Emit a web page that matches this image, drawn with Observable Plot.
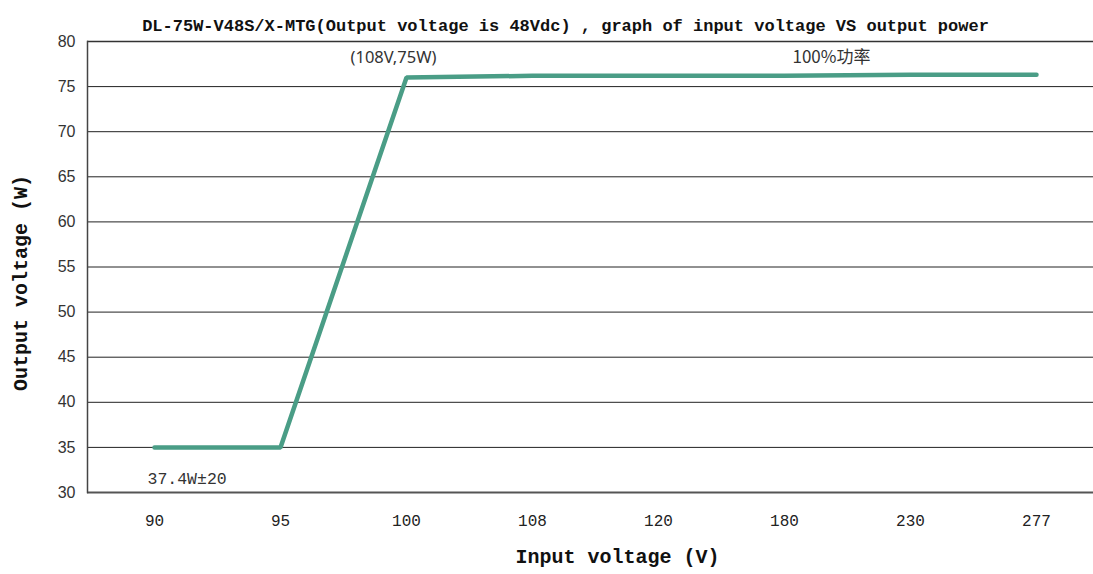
<!DOCTYPE html>
<html>
<head>
<meta charset="utf-8">
<script src="https://cdn.jsdelivr.net/npm/d3@7"></script>
<script src="https://cdn.jsdelivr.net/npm/@observablehq/plot@0.6"></script>
<style>
  html, body { margin: 0; padding: 0; background: #fff; }
</style>
</head>
<body>
<div id="chart"></div>
<script>
const categories = ["90", "95", "100", "108", "120", "180", "230", "277"];
const power = [35, 35, 76.0, 76.2, 76.2, 76.2, 76.3, 76.3];
const yTicks = [30, 35, 40, 45, 50, 55, 60, 65, 70, 75, 80];
const titleText = "DL-75W-V48S/X-MTG(Output voltage is 48Vdc) , graph of input voltage VS output power";
const xLabel = "Input voltage (V)";
const yLabel = "Output voltage (W)";
const annotations = [
  {x: "100", y: 78.2, text: "(108V,75W)", dx: -13, font: "Noto Sans, Liberation Sans, sans-serif", anchor: "middle", size: 16.5},
  {x: "180", y: 78.2, text: "100%功率", dx: 8, font: "Noto Sans CJK SC, Noto Sans, sans-serif", anchor: "start", size: 17},
  {x: "90", y: 31.5, text: "37.4W±20", dx: -7, font: "Liberation Mono, monospace", anchor: "start", size: 16.5}
];

const data = categories.map((c, i) => ({x: c, y: power[i]}));
const mono = "Liberation Mono, DejaVu Sans Mono, monospace";

const chart = Plot.plot({
  width: 1093,
  height: 574,
  marginTop: 41,
  marginBottom: 82,
  marginLeft: 87,
  marginRight: 0,
  style: {background: "#fff"},
  x: {type: "point", domain: categories, range: [152, 1037], padding: 0},
  y: {domain: [30, 80], ticks: yTicks},
  marks: [
    Plot.ruleY(yTicks.filter(d => d !== 30 && d !== 80), {y: d => d, stroke: "#222", strokeWidth: 1}),
    Plot.ruleY([80], {stroke: "#333", strokeWidth: 1.6}),
    Plot.ruleY([30], {stroke: "#555", strokeWidth: 2.2}),
    Plot.frame({anchor: "left", stroke: "#444", strokeWidth: 1.5}),
    Plot.axisX({tickSize: 0, tickPadding: 22, fontSize: 16, fontFamily: mono, fill: "#222", label: null}),
    Plot.axisY({ticks: yTicks, tickSize: 0, tickPadding: 12, fontSize: 16, fontFamily: "Liberation Sans, Arial, sans-serif", fill: "#333", label: null}),
    Plot.line(data, {x: "x", y: "y", stroke: "#4a9d86", strokeWidth: 4.5, strokeLinejoin: "miter"}),
    ...annotations.map(a => Plot.text([a], {x: "x", y: "y", text: "text", dx: a.dx, textAnchor: a.anchor, fontFamily: a.font, fontSize: a.size, fill: "#333"})),
    Plot.text([titleText], {frameAnchor: "top", dx: -25, dy: -23, fontFamily: mono, fontWeight: "bold", fontSize: 17, fill: "#111"}),
    Plot.text([xLabel], {frameAnchor: "bottom", dx: 27, dy: 70, fontFamily: mono, fontWeight: "bold", fontSize: 20, fill: "#111"}),
    Plot.text([yLabel], {frameAnchor: "left", textAnchor: "middle", rotate: -90, dx: -67, dy: 16, fontFamily: mono, fontWeight: "bold", fontSize: 20, fill: "#111"})
  ]
});
document.getElementById("chart").appendChild(chart);
</script>
</body>
</html>
